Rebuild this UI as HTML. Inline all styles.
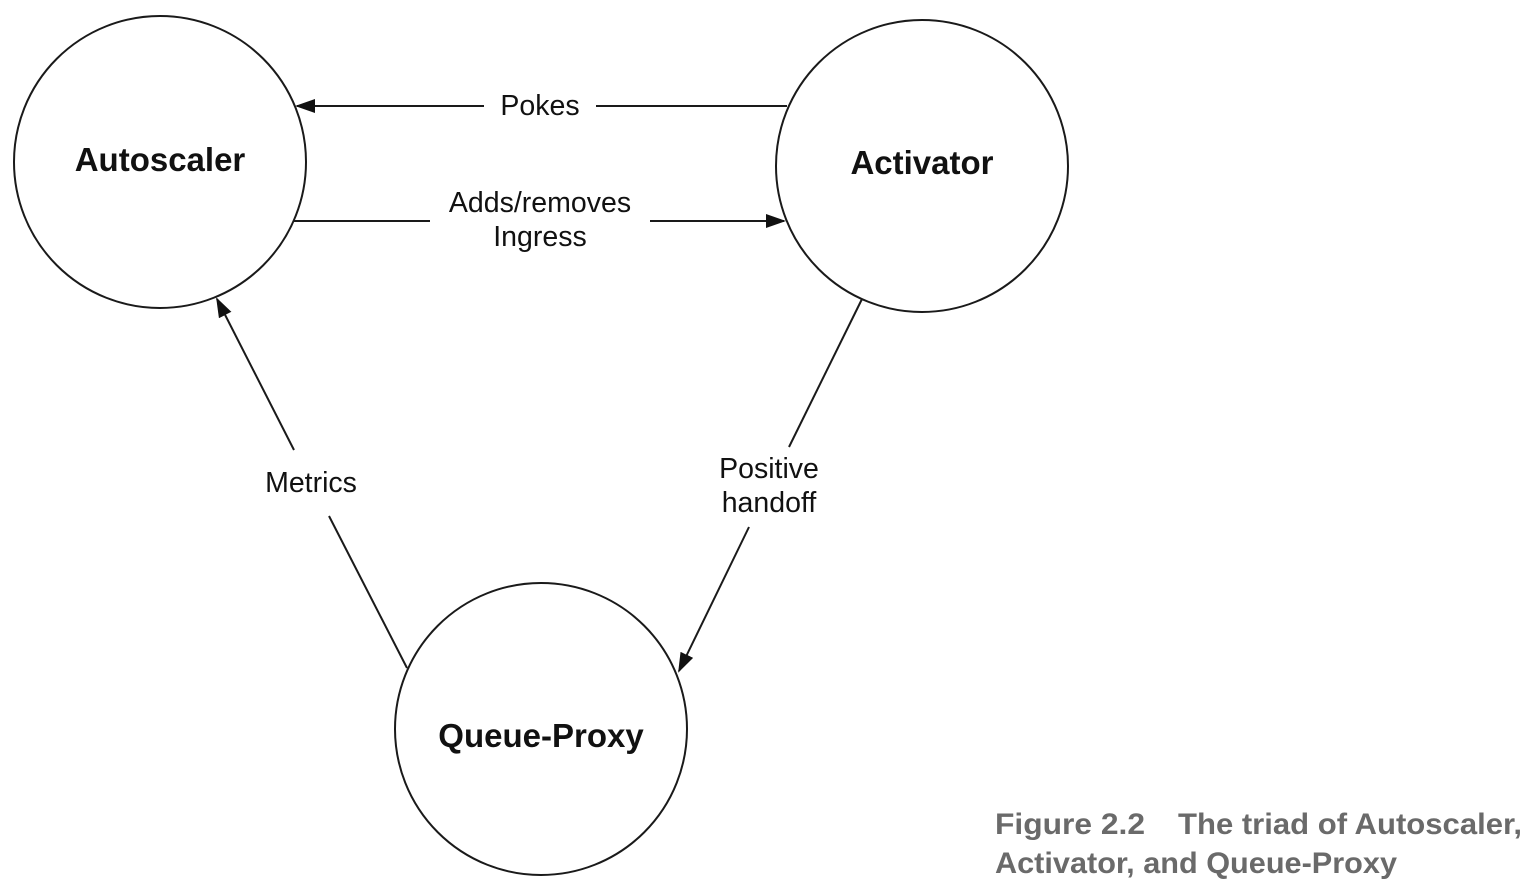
<!DOCTYPE html>
<html><head><meta charset="utf-8"><style>
html,body{margin:0;padding:0;background:#fff;}
svg{display:block;}
</style></head><body>
<svg width="1534" height="894" viewBox="0 0 1534 894" xmlns="http://www.w3.org/2000/svg">
<defs>
<marker id="a" markerWidth="20" markerHeight="14" refX="18" refY="7" orient="auto" markerUnits="userSpaceOnUse">
<path d="M0,0 L20,7 L0,14 Z" fill="#111"/>
</marker>
</defs>
<g fill="none" stroke="#1a1a1a" stroke-width="2">
<circle cx="160" cy="162" r="146"/>
<circle cx="922" cy="166" r="146"/>
<circle cx="541" cy="729" r="146"/>
<line x1="787" y1="106" x2="596" y2="106"/>
<line x1="484" y1="106" x2="297" y2="106" marker-end="url(#a)"/>
<line x1="294" y1="221" x2="430" y2="221"/>
<line x1="650" y1="221" x2="784" y2="221" marker-end="url(#a)"/>
<line x1="862" y1="299" x2="789" y2="447"/>
<line x1="749" y1="527" x2="679" y2="671" marker-end="url(#a)"/>
<line x1="407" y1="668" x2="329" y2="516"/>
<line x1="294" y1="450" x2="217" y2="299" marker-end="url(#a)"/>
</g>
<g font-family="Liberation Sans, sans-serif" fill="#111" text-anchor="middle">
<text x="160" y="171" font-size="33" font-weight="bold">Autoscaler</text>
<text x="922" y="174" font-size="33" font-weight="bold">Activator</text>
<text x="541" y="747" font-size="33" font-weight="bold">Queue-Proxy</text>
<text x="540" y="115" font-size="28.5">Pokes</text>
<text x="540" y="212" font-size="28.5">Adds/removes</text>
<text x="540" y="246" font-size="28.5">Ingress</text>
<text x="769" y="478" font-size="28.5">Positive</text>
<text x="769" y="512" font-size="28.5">handoff</text>
<text x="311" y="492" font-size="28.5">Metrics</text>
</g>
<g font-family="Liberation Sans Narrow, Liberation Sans, sans-serif" font-weight="bold" fill="#6a6a6a" font-size="30">
<text x="995" y="834" textLength="150" lengthAdjust="spacingAndGlyphs">Figure 2.2</text>
<text x="1178" y="834" textLength="344" lengthAdjust="spacingAndGlyphs">The triad of Autoscaler,</text>
<text x="995" y="873" textLength="402" lengthAdjust="spacingAndGlyphs">Activator, and Queue-Proxy</text>
</g>
</svg>
</body></html>
